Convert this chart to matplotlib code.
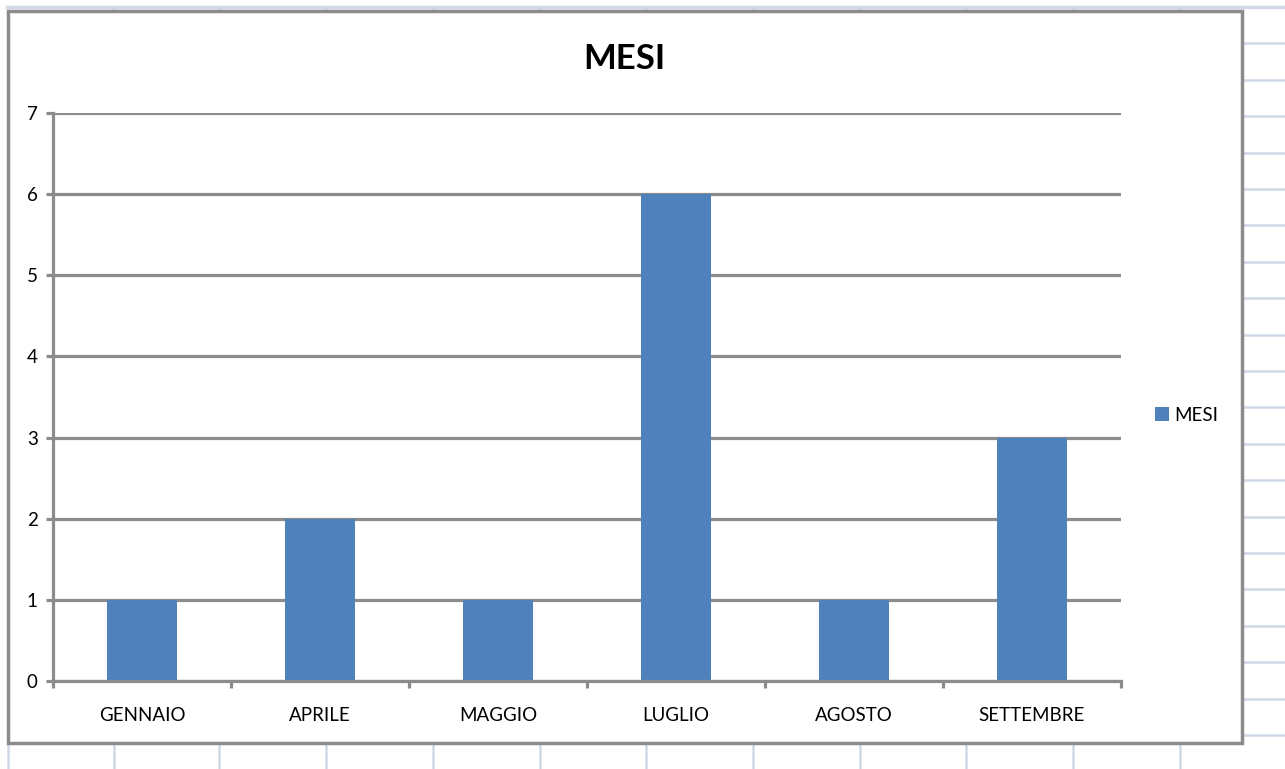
import matplotlib
matplotlib.use("Agg")
import matplotlib.pyplot as plt
from matplotlib.lines import Line2D
from matplotlib.patches import Rectangle

categories = ["GENNAIO", "APRILE", "MAGGIO", "LUGLIO", "AGOSTO", "SETTEMBRE"]
values = [1, 2, 1, 6, 1, 3]
series_name = "MESI"
title = "MESI"
yticks = [0, 1, 2, 3, 4, 5, 6, 7]

W, H = 1285, 769
plt.rcParams['font.family'] = ['Lato', 'DejaVu Sans']
fig = plt.figure(figsize=(W / 100, H / 100), dpi=100)
fig.patch.set_facecolor("white")

def fx(x):
    return x / W

def fy(y):
    return 1 - y / H

sheet = "#d0d8e8"
# spreadsheet gridlines (background)
fig.add_artist(Line2D([fx(7), 1], [fy(7), fy(7)], color=sheet, lw=2.5, zorder=0))
for x in [114, 219, 326, 433, 540, 646, 753, 860, 966, 1073, 1180]:
    fig.add_artist(Line2D([fx(x), fx(x)], [fy(743), 0], color=sheet, lw=1.8, zorder=0))
    fig.add_artist(Line2D([fx(x), fx(x)], [fy(7), fy(11)], color=sheet, lw=1.8, zorder=0))
fig.add_artist(Line2D([fx(8), fx(8)], [fy(743), 0], color=sheet, lw=1.8, zorder=0))
y = 7 + 36.4
while y < H:
    fig.add_artist(Line2D([fx(1243), 1], [fy(y), fy(y)], color=sheet, lw=1.8, zorder=0))
    y += 36.4

# chart frame
fig.add_artist(Rectangle((fx(8), fy(743)), fx(1242 - 8), (743 - 11) / H,
                         facecolor="white", edgecolor="#8c8c8c", lw=2.5, zorder=1))

ax = fig.add_axes([fx(53), fy(681), fx(1121 - 53), (681 - 113) / H], zorder=2)
ax.patch.set_alpha(0)
grey = "#8c8c8c"
x = [i + 0.5 for i in range(len(categories))]
ax.bar(x, values, width=0.395, color="#4f81bd", zorder=3, label=series_name)
ax.set_xlim(0, len(categories))
ax.set_ylim(0, 7)
ax.set_yticks(yticks)
ax.set_yticklabels([str(t) for t in yticks])
ax.yaxis.grid(True, color=grey, lw=2.3, zorder=1)
ax.set_axisbelow(True)
ax.set_xticks(range(len(categories) + 1))
ax.set_xticklabels([])
ax.set_xticks(x, minor=True)
ax.set_xticklabels(categories, minor=True)
ax.tick_params(axis="x", which="minor", length=0, pad=19, labelsize=13.5)
ax.tick_params(axis="x", which="major", length=5, width=2.3, color=grey, direction="out")
ax.tick_params(axis="y", length=5, width=2.3, color=grey, pad=6, labelsize=13.5)
for s in ["top", "right"]:
    ax.spines[s].set_visible(False)
for s in ["left", "bottom"]:
    ax.spines[s].set_color(grey)
    ax.spines[s].set_linewidth(2.3)
    ax.spines[s].set_zorder(4)

fig.text(fx(624), fy(59), title, ha="center", va="center", fontsize=25, fontweight="bold")

leg = fig.legend(loc="center left", bbox_to_anchor=(fx(1155), fy(415)), frameon=False,
                 fontsize=13.5, handlelength=0.75, handleheight=0.75, handletextpad=0.3,
                 borderpad=0, borderaxespad=0)

fig.savefig("out.png", dpi=100)
